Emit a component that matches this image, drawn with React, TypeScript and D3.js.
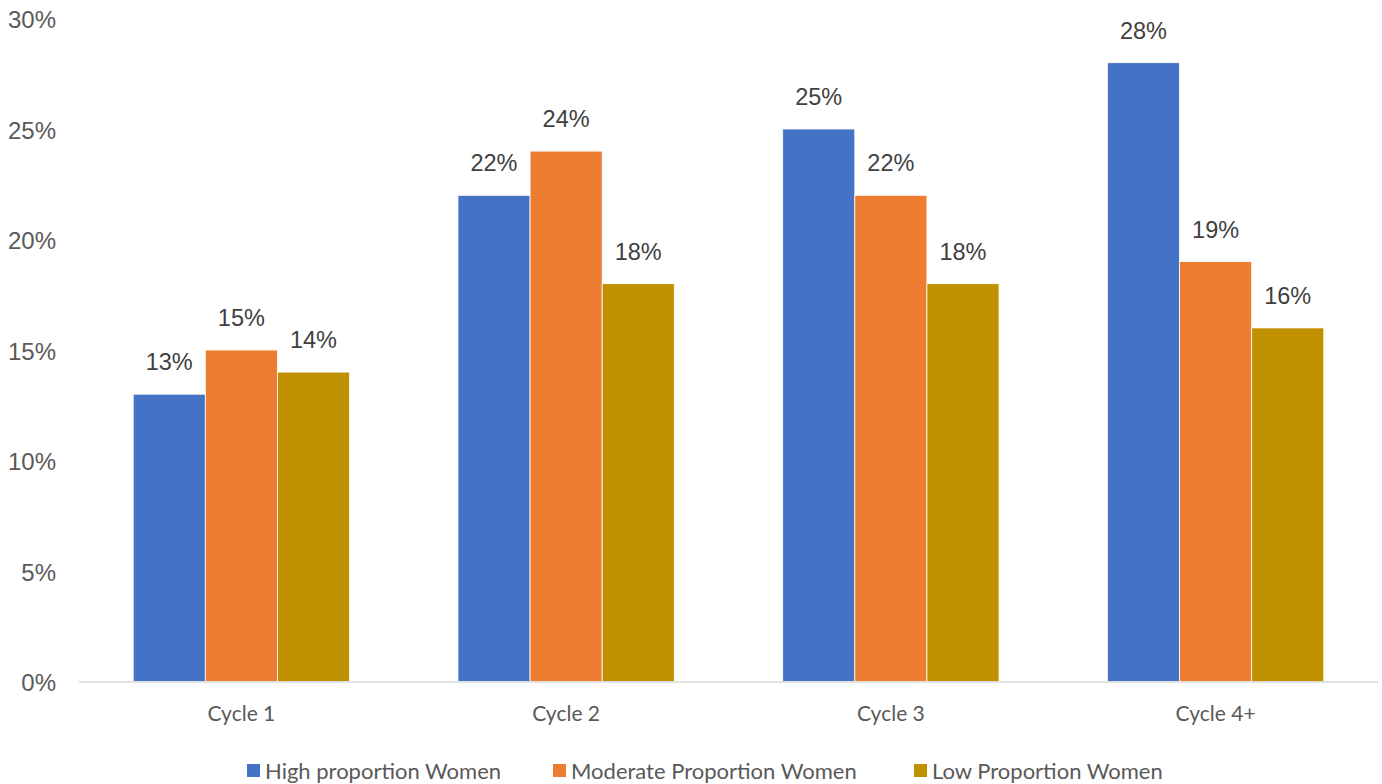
import React, { useEffect } from "react";
import * as d3 from "d3";

const categories = ["Cycle 1", "Cycle 2", "Cycle 3", "Cycle 4+"];
const seriesNames = ["High proportion Women", "Moderate Proportion Women", "Low Proportion Women"];
const highValues = [13, 22, 25, 28];
const moderateValues = [15, 24, 22, 19];
const lowValues = [14, 18, 18, 16];
const yTicks = [0, 5, 10, 15, 20, 25, 30];
const colors = ["#4472C4", "#ED7D31", "#BF9000"];

const W = 1382;
const H = 784;

export default function App() {
  useEffect(() => {
    document.body.style.margin = "0";
  }, []);

  const series = [highValues, moderateValues, lowValues];
  const plotLeft = 79;
  const plotRight = 1378;
  const y = d3.scaleLinear().domain([0, 30]).range([681.5, 18.5]);
  const x0 = d3
    .scaleBand<string>()
    .domain(categories)
    .range([plotLeft, plotRight])
    .paddingInner(0.3338)
    .paddingOuter(0.1669);
  const x1 = d3
    .scaleBand<string>()
    .domain(seriesNames)
    .range([0, x0.bandwidth()])
    .padding(0);

  const armo = "'Liberation Sans', Arial, sans-serif";
  const cal = "Lato, 'Open Sans', sans-serif";

  const legendX = [247, 553, 914];

  return (
    <div style={{ position: "absolute", left: 0, top: 0 }}>
      <svg width={W} height={H} style={{ display: "block", background: "#fff" }}>
        {yTicks.map((t) => (
          <text
            key={t}
            x={56}
            y={y(t) + 3.5}
            textAnchor="end"
            dominantBaseline="middle"
            fontFamily={armo}
            fontSize={24}
            fill="#595959"
          >
            {`${t}%`}
          </text>
        ))}
        {categories.map((c, ci) => (
          <g key={c} transform={`translate(${x0(c)},0)`}>
            {seriesNames.map((s, si) => {
              const v = series[si][ci];
              const bx = x1(s) as number;
              return (
                <g key={s}>
                  <rect
                    x={bx}
                    y={y(v)}
                    width={x1.bandwidth()}
                    height={y(0) - y(v)}
                    fill={colors[si]}
                    stroke="#ffffff"
                    strokeWidth={0.8}
                  />
                  <text
                    x={bx + x1.bandwidth() / 2}
                    y={y(v) - 24}
                    textAnchor="middle"
                    fontFamily={armo}
                    fontSize={23.5}
                    fill="#404040"
                  >
                    {`${v}%`}
                  </text>
                </g>
              );
            })}
            <text
              x={x0.bandwidth() / 2}
              y={721}
              textAnchor="middle"
              fontFamily={cal}
              fontSize={21}
              fill="#595959"
            >
              {c}
            </text>
          </g>
        ))}
        <line x1={plotLeft} x2={plotRight} y1={y(0) + 0.5} y2={y(0) + 0.5} stroke="#D9D9D9" strokeWidth={1.5} />
        {seriesNames.map((s, si) => (
          <g key={s}>
            <rect x={legendX[si]} y={764} width={13} height={13} fill={colors[si]} />
            <text
              x={legendX[si] + 18}
              y={779}
              fontFamily={cal}
              fontSize={22}
              fill="#595959"
            >
              {s}
            </text>
          </g>
        ))}
      </svg>
    </div>
  );
}
